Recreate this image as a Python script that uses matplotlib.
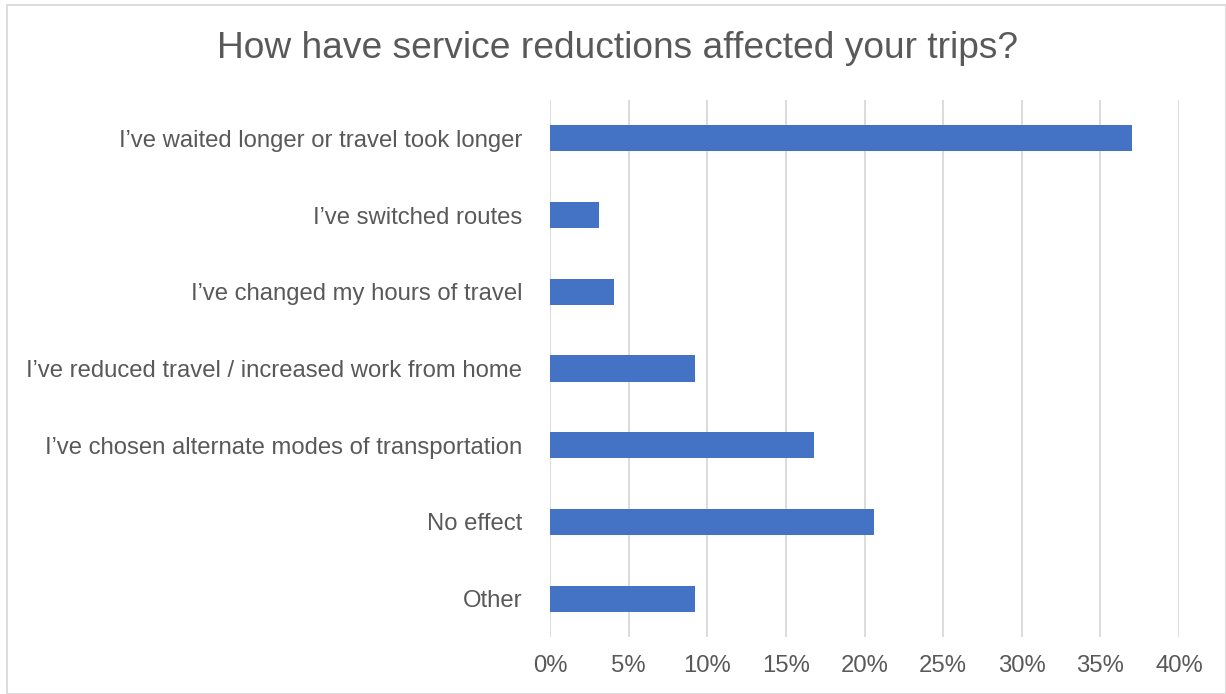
import matplotlib
matplotlib.use("Agg")
import matplotlib.pyplot as plt
from matplotlib.patches import Rectangle

categories = [
    "I\u2019ve waited longer or travel took longer",
    "I\u2019ve switched routes",
    "I\u2019ve changed my hours of travel",
    "I\u2019ve reduced travel / increased work from home",
    "I\u2019ve chosen alternate modes of transportation",
    "No effect",
    "Other",
]
values = [37.0, 3.1, 4.1, 9.2, 16.8, 20.6, 9.2]
xticks = [0, 5, 10, 15, 20, 25, 30, 35, 40]
xtick_labels = [f"{t}%" for t in xticks]
title = "How have service reductions affected your trips?"

plt.rcParams['font.family'] = ['Liberation Sans', 'DejaVu Sans']
fig = plt.figure(figsize=(12.26, 6.94), dpi=100)
ax = fig.add_axes([550/1226, 1-637/694, 629/1226, 537/694])

n = len(categories)
ypos = list(range(n))
ax.barh(ypos, values, height=0.34, color="#4472C4", zorder=3)
ax.set_ylim(n - 0.5, -0.5)
ax.set_xlim(0, 40)
ax.set_xticks(xticks)
ax.set_xticklabels(xtick_labels)
ax.set_yticks(ypos)
ax.set_yticklabels(categories)
ax.tick_params(axis='both', length=0, labelsize=17.2, colors="#595959")
ax.tick_params(axis='y', pad=20)
ax.tick_params(axis='x', pad=13)
ax.xaxis.grid(True, color="#D9D9D9", linewidth=1.3, zorder=0)
for s in ax.spines.values():
    s.set_visible(False)

fig.text(617.5/1226, 1-49/694, title, ha='center', va='center', fontsize=26.7, color="#595959")
fig.patches.append(Rectangle((7/1226, 0), 1-7/1226, 1-5/694, transform=fig.transFigure,
                             fill=False, edgecolor="#D9D9D9", linewidth=1.3))
fig.savefig("out.png", dpi=100)
